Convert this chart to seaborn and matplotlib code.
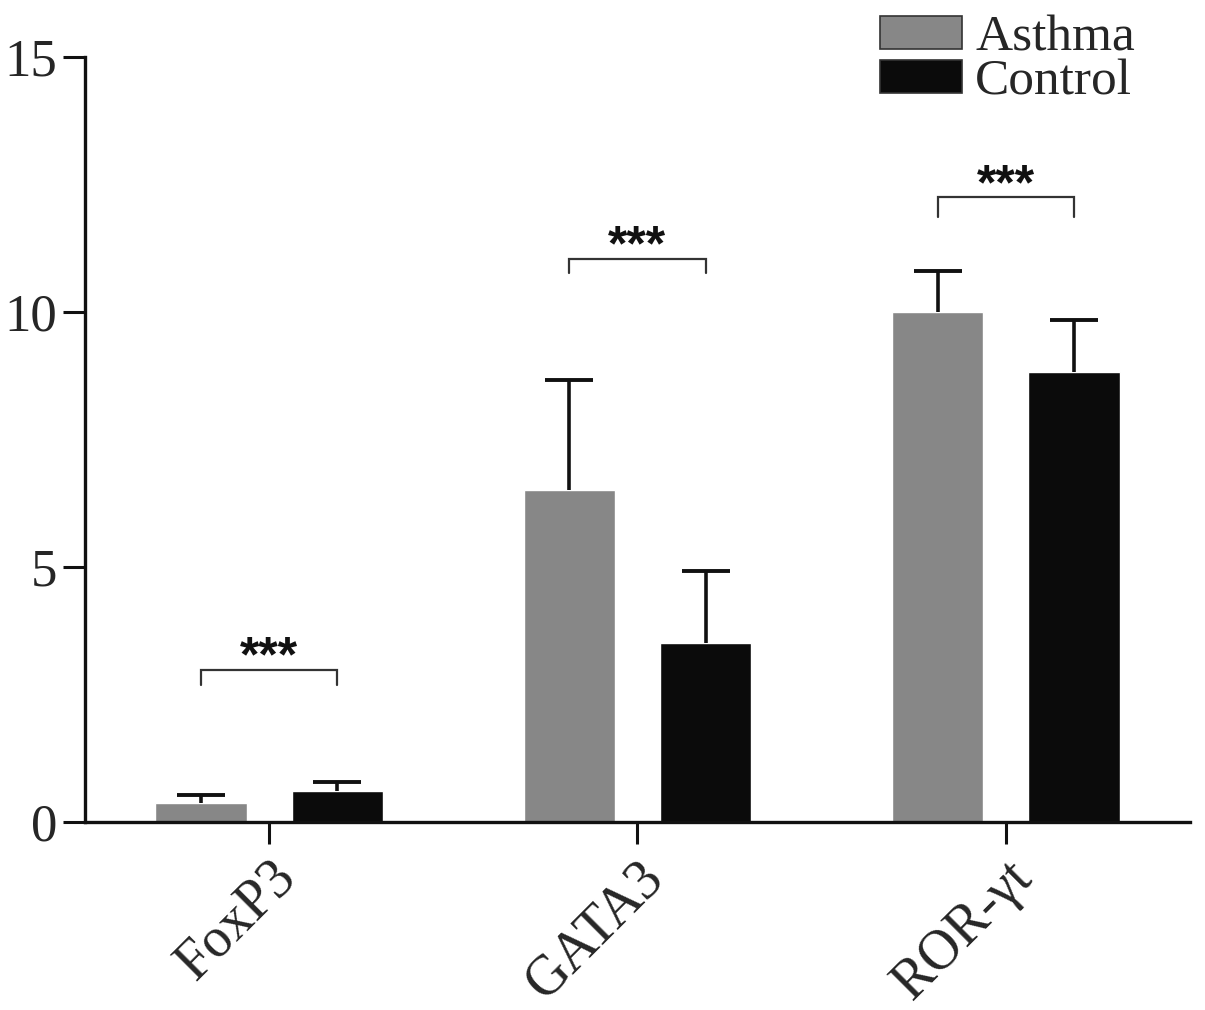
import matplotlib
matplotlib.use("Agg")
import matplotlib.pyplot as plt
import seaborn as sns
import pandas as pd
import numpy as np

categories = ["FoxP3", "GATA3", "ROR-\u03b3t"]
groups = ["Asthma", "Control"]
asthma_mean = [0.38, 6.52, 10.0]
asthma_err = [0.16, 2.15, 0.80]
control_mean = [0.62, 3.52, 8.82]
control_err = [0.17, 1.40, 1.02]
sig_labels = ["***", "***", "***"]
sig_heights = [2.98, 11.04, 12.25]
sig_drop = [0.30, 0.28, 0.38]
yticks = [0, 5, 10, 15]

sns.set_style("ticks")
plt.rcParams['font.family'] = ['Liberation Serif', 'DejaVu Serif']

df = pd.DataFrame({
    "gene": categories * 2,
    "group": [groups[0]] * 3 + [groups[1]] * 3,
    "value": asthma_mean + control_mean,
})
errs = {groups[0]: asthma_err, groups[1]: control_err}
means = {groups[0]: asthma_mean, groups[1]: control_mean}

fig = plt.figure(figsize=(12.05, 10.10), dpi=100)
ax = fig.add_axes([0.0705, 0.186, 0.917, 0.7575])

palette = {groups[0]: "#878787", groups[1]: "#0b0b0b"}
sns.barplot(data=df, x="gene", y="value", hue="group", order=categories,
            hue_order=groups, palette=palette, width=0.74, gap=0.33,
            errorbar=None, ax=ax, saturation=1, legend=False)

# error bars (upper only), from bar patches
centers = {}
for gi, g in enumerate(groups):
    cont = ax.containers[gi]
    xs = [p.get_x() + p.get_width() / 2 for p in cont.patches]
    centers[g] = xs
    eb = ax.errorbar(xs, means[g], yerr=[np.zeros(3), errs[g]], fmt="none",
                     ecolor="#111111", elinewidth=2.6, capsize=17, capthick=2.8,
                     zorder=1)
    caps = eb[1]
    if len(caps) == 2:
        caps[0].set_visible(False)

# significance brackets
for i in range(3):
    x1 = centers[groups[0]][i]
    x2 = centers[groups[1]][i]
    h = sig_heights[i]
    d = sig_drop[i]
    ax.plot([x1, x1, x2, x2], [h - d, h, h, h - d], color="#333333", lw=1.6,
            solid_joinstyle="miter")
    ax.text((x1 + x2) / 2, h - 0.03, sig_labels[i], ha="center", va="baseline",
            fontsize=36, fontweight="bold", family=["Liberation Sans", "DejaVu Sans"],
            color="#111111")

ax.set_xlim(-0.5, 2.5)
ax.set_ylim(0, 15)
ax.set_yticks(yticks)
ax.set_yticklabels([str(t) for t in yticks], fontsize=38)
ax.set_xlabel("")
ax.set_ylabel("")
ax.set_xticks(range(3))
ax.set_xticklabels(categories, fontsize=40, rotation=45, ha="right",
                   rotation_mode="anchor")
ax.tick_params(axis="both", width=2.2, length=16, color="#111111", pad=5)
ax.tick_params(axis="y", pad=4)
for s in ["left", "bottom"]:
    ax.spines[s].set_linewidth(2.4)
    ax.spines[s].set_color("#111111")
sns.despine(ax=ax)
ax.spines["left"].set_bounds(0, 15)

# legend
from matplotlib.patches import Patch
handles = [Patch(facecolor=palette[g], edgecolor="#333333", linewidth=1.2) for g in groups]
fig.legend(handles, groups, loc="upper left", bbox_to_anchor=(0.730, 0.985),
           frameon=False, fontsize=37, handlelength=1.6, handleheight=0.6,
           handletextpad=0.26, labelspacing=-0.05, borderpad=0, borderaxespad=0)

fig.savefig("out.png", dpi=100)
